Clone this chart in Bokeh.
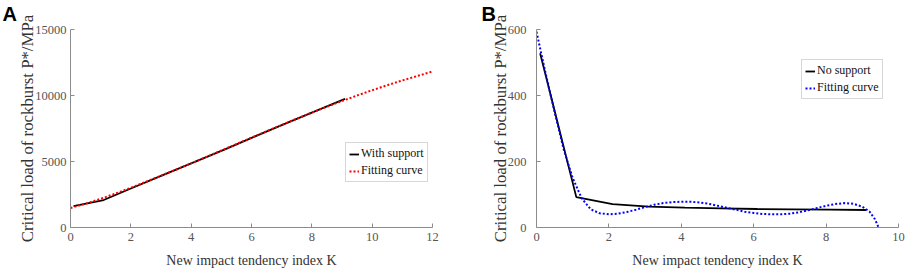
from bokeh.plotting import figure
from bokeh.models import Range1d, Legend, LegendItem, FixedTicker, Title
from bokeh.layouts import row
from bokeh.embed import file_html
from bokeh.resources import INLINE

# ---------------- Panel A data ----------------
a_k = [0.1, 1.1, 2.1, 3.1, 4.1, 5.1, 6.1, 7.1, 8.1, 9.1]
a_with_support = [1620, 2080, 3050, 4000, 4950, 5900, 6880, 7850, 8800, 9750]
a_fit_k = [0, 0.5, 1, 1.5, 2, 2.5, 3, 3.5, 4, 4.5, 5, 5.5, 6, 6.5, 7, 7.5, 8,
           8.5, 9, 9.5, 10, 10.5, 11, 11.5, 12]
a_fit = [1480, 1800, 2170, 2580, 3010, 3460, 3920, 4390, 4860, 5340, 5830, 6320,
         6810, 7290, 7770, 8240, 8700, 9150, 9580, 10000, 10400, 10780, 11140,
         11480, 11820]
a_xticks = [0, 2, 4, 6, 8, 10, 12]
a_yticks = [0, 5000, 10000, 15000]

# ---------------- Panel B data ----------------
b_k = [0.1, 1.1, 2.1, 3.1, 4.1, 5.1, 6.1, 7.1, 8.1, 9.1]
b_no_support = [528, 92, 71, 63, 60, 58, 56, 55, 54, 53]
b_fit_k = [0, 0.25, 0.5, 0.75, 1, 1.25, 1.5, 1.75, 2, 2.25, 2.5, 2.75, 3, 3.25,
           3.5, 3.75, 4, 4.25, 4.5, 4.75, 5, 5.25, 5.5, 5.75, 6, 6.25, 6.5,
           6.75, 7, 7.25, 7.5, 7.75, 8, 8.25, 8.5, 8.75, 9, 9.2, 9.35, 9.45]
b_fit = [593, 468, 350, 237, 150, 88, 55, 43, 40, 42, 47, 54, 62, 69, 74, 77,
         78, 78, 76, 72, 66, 60, 54, 48, 44, 41, 40, 40, 42, 46, 52, 59, 66,
         71, 74, 72, 63, 48, 25, 0]
b_xticks = [0, 2, 4, 6, 8, 10]
b_yticks = [0, 200, 400, 600]

SERIF = "Liberation Serif"
X_LABEL = "New impact tendency index K"
Y_LABEL = "Critical load of rockburst P*/MPa"


def make_fig(width, left, right, xr, yr, xticks, yticks, ystandoff, ylab_standoff,
             letter, letter_offset):
    p = figure(width=width, height=273, output_backend="svg", toolbar_location=None,
               x_range=Range1d(*xr), y_range=Range1d(*yr),
               min_border_left=left, min_border_right=right,
               min_border_top=29, min_border_bottom=46)
    p.outline_line_color = None
    p.background_fill_color = "white"
    p.border_fill_color = "white"
    p.xgrid.visible = False
    p.ygrid.visible = False
    for ax in (p.xaxis[0], p.yaxis[0]):
        ax.axis_line_color = "#8c8c8c"
        ax.major_tick_line_color = "#8c8c8c"
        ax.major_tick_in = 4
        ax.major_tick_out = 0
        ax.minor_tick_line_color = None
        ax.major_label_text_font = SERIF
        ax.major_label_text_font_size = "12.5px"
        ax.major_label_text_color = "#555555"
    p.xaxis.ticker = FixedTicker(ticks=xticks)
    p.yaxis.ticker = FixedTicker(ticks=yticks)
    p.xaxis.major_label_standoff = 5
    p.yaxis.major_label_standoff = ystandoff
    p.xaxis.axis_label = X_LABEL
    p.xaxis.axis_label_text_font = SERIF
    p.xaxis.axis_label_text_font_style = "normal"
    p.xaxis.axis_label_text_font_size = "14px"
    p.xaxis.axis_label_text_color = "#333333"
    p.xaxis.axis_label_standoff = 9
    p.yaxis.axis_label = Y_LABEL
    p.yaxis.axis_label_text_font = SERIF
    p.yaxis.axis_label_text_font_style = "normal"
    p.yaxis.axis_label_text_font_size = "16.8px"
    p.yaxis.axis_label_text_color = "#333333"
    p.yaxis.axis_label_standoff = ylab_standoff
    t = Title(text=letter, align="left", offset=letter_offset, standoff=5,
              text_font="Liberation Sans", text_font_style="bold",
              text_font_size="20px", text_color="#000000", vertical_align="top")
    p.add_layout(t, "above")
    return p


def style_legend(lg, loc):
    lg.location = loc
    lg.label_text_font = SERIF
    lg.label_text_font_size = "12px"
    lg.label_text_color = "#111111"
    lg.label_standoff = 2
    lg.label_height = 14
    lg.glyph_height = 14
    lg.glyph_width = 10
    lg.spacing = 2
    lg.padding = 3
    lg.margin = 0
    lg.border_line_color = "#b0b0b0"
    lg.border_line_width = 1
    lg.background_fill_color = "white"
    lg.background_fill_alpha = 1


# ---------------- Panel A ----------------
pa = make_fig(453, 70, 21, (0, 12), (0, 15000), a_xticks, a_yticks, 4, -5, "A", -68)
ra1 = pa.line(a_k, a_with_support, line_color="black", line_width=1.8)
ra2 = pa.line(a_fit_k, a_fit, line_color="#ff0000", line_width=2, line_dash="2 2")
lga = Legend(items=[LegendItem(label="With support", renderers=[ra1]),
                    LegendItem(label="Fitting curve", renderers=[ra2])])
pa.add_layout(lga)
style_legend(lga, (275, 45))

# ---------------- Panel B ----------------
pb = make_fig(453, 83, 8, (0, 10), (0, 600), b_xticks, b_yticks, 10, -5, "B", -55)
rb1 = pb.line(b_k, b_no_support, line_color="black", line_width=1.8)
rb2 = pb.line(b_fit_k, b_fit, line_color="#0000ff", line_width=2, line_dash="2 2")
lgb = Legend(items=[LegendItem(label="No support", renderers=[rb1]),
                    LegendItem(label="Fitting curve", renderers=[rb2])])
pb.add_layout(lgb)
style_legend(lgb, (265, 128))

layout = row(pa, pb)
open("out.html", "w").write(file_html(layout, INLINE))
